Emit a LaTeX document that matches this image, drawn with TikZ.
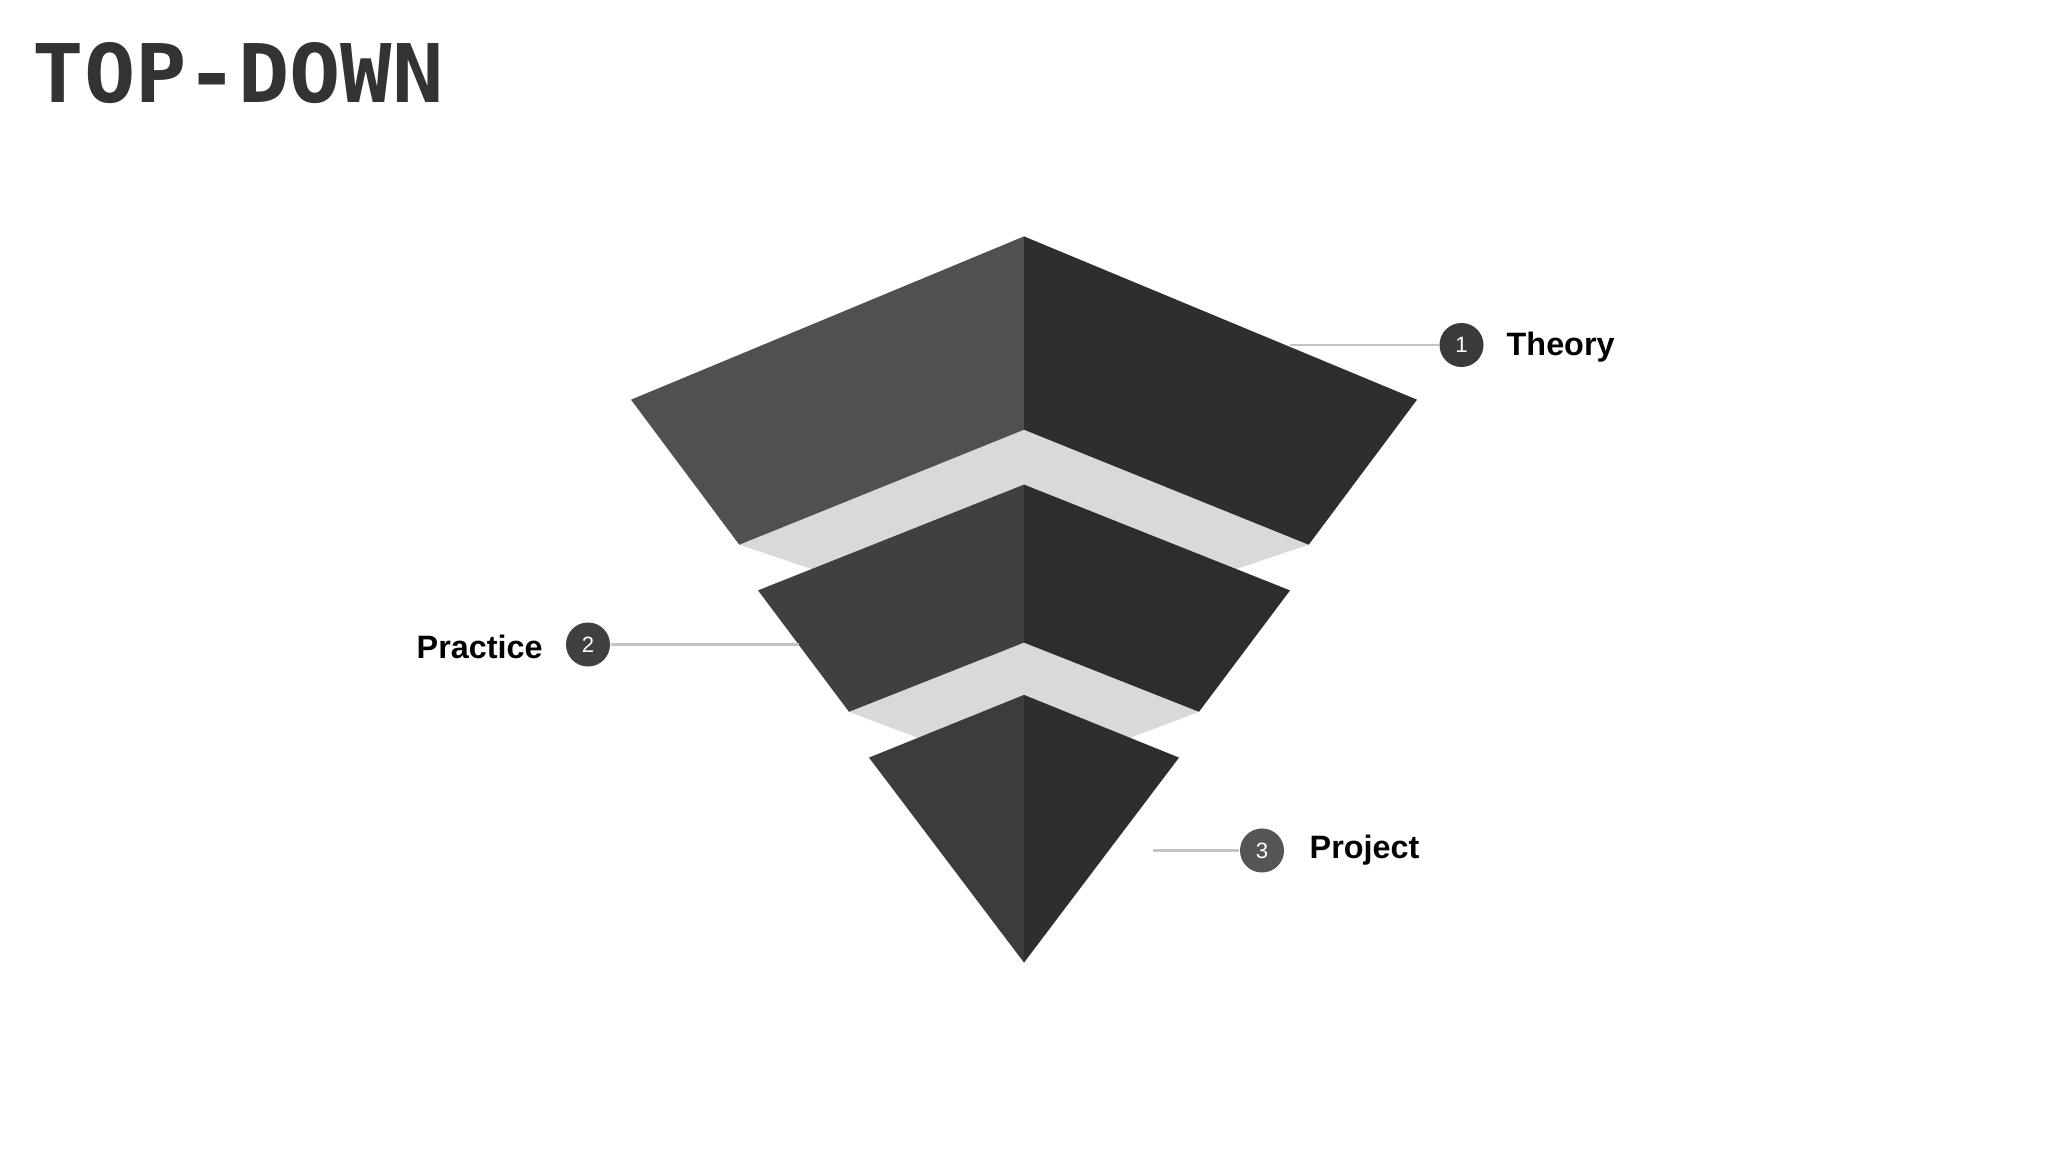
\documentclass[tikz,border=0pt]{standalone}
\usepackage{fontspec}
\setmainfont{Liberation Sans}
\newfontfamily\titlefont{DejaVu Sans Mono}
\definecolor{titlegray}{HTML}{333333}
\definecolor{topL}{HTML}{505050}
\definecolor{topR}{HTML}{2E2E2E}
\definecolor{midL}{HTML}{404040}
\definecolor{midR}{HTML}{2D2D2D}
\definecolor{botL}{HTML}{3C3C3C}
\definecolor{botR}{HTML}{2E2E2E}
\definecolor{bandgray}{HTML}{D9D9D9}
\definecolor{leadgray}{HTML}{C4C4C4}
\definecolor{numA}{HTML}{3A3A3A}
\definecolor{numB}{HTML}{404040}
\definecolor{numC}{HTML}{555555}
\begin{document}
\begin{tikzpicture}[x=0.01cm,y=-0.01cm,
  numcirc/.style={circle, fill=#1, minimum size=0.44cm, inner sep=0pt, text=white,
    font=\fontsize{6.3}{7}\selectfont},
  itemlabel/.style={anchor=base west, inner sep=0pt, text=black,
    font=\bfseries\fontsize{9.2}{10}\selectfont},
  leader/.style={draw=leadgray, line width=0.6pt}]
\useasboundingbox (0,0) rectangle (2048,1152);
\fill[white] (0,0) rectangle (2048,1152);

% title
\node[anchor=base west, inner sep=0pt, text=titlegray,
  font=\titlefont\bfseries\fontsize{23}{24}\selectfont] (title) at (32,102.7) {\scalebox{1.055}[1]{TOP-DOWN}};

% gray band under top layer
\fill[bandgray] (739.3,544.7) -- (1024,429.7) -- (1308.7,544.7) -- (1024,640) -- cycle;
% top layer
\fill[topL] (1024,236.4) -- (631,399.7) -- (739.3,544.7) -- (1024,429.7) -- cycle;
\fill[topR] (1024,236.4) -- (1417,399.7) -- (1308.7,544.7) -- (1024,429.7) -- cycle;

% gray band under middle layer
\fill[bandgray] (849,711.8) -- (1024,642.6) -- (1199,711.8) -- (1024,778) -- cycle;
% middle layer
\fill[midL] (1024,484.6) -- (758,590.4) -- (849,711.8) -- (1024,642.6) -- cycle;
\fill[midR] (1024,484.6) -- (1290,590.4) -- (1199,711.8) -- (1024,642.6) -- cycle;

% bottom layer
\fill[botL] (1024,694.9) -- (869,757.6) -- (1024,962.6) -- cycle;
\fill[botR] (1024,694.9) -- (1179,757.6) -- (1024,962.6) -- cycle;

% labels
\coordinate (endA) at (1290,345);
\node[numcirc=numA] (nA) at (1461.5,345) {1};
\node[itemlabel] (tA) at (1506,356) {Theory};
\draw[leader] (endA) -- (nA.west);

\coordinate (endB) at (799,644.5);
\node[numcirc=numB] (nB) at (588,644.5) {2};
\node[itemlabel] (tB) at (416,659) {Practice};
\draw[leader] (nB.east) -- (endB);

\coordinate (endC) at (1153,850.5);
\node[numcirc=numC] (nC) at (1262,850.5) {3};
\node[itemlabel] (tC) at (1309,858) {Project};
\draw[leader] (endC) -- (nC.west);
\end{tikzpicture}
\end{document}
